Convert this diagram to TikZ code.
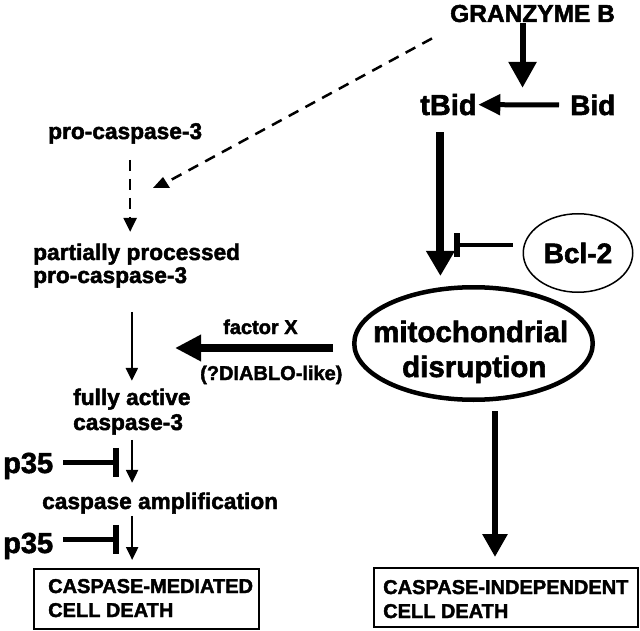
\documentclass[tikz,border=0pt]{standalone}
\usepackage{fontspec}
\setmainfont{Liberation Sans}[BoldFeatures={FakeBold=2}]
\usetikzlibrary{arrows.meta,shapes.geometric,calc}
\newcommand\fsz[1]{\fontsize{#1}{#1}\selectfont\bfseries}
\begin{document}
\begin{tikzpicture}[x=1pt,y=-1pt,
  lbl/.style={inner sep=0pt, anchor=base west, font=\fsz{#1}},
  bigarrow/.style args={#1/#2/#3}{line width=#1pt,-{Triangle[length=#2pt,width=#3pt]}},
  thinarrow/.style={line width=2.2pt,-{Triangle[length=13pt,width=12pt]}},
  dasharrow/.style={line width=2.5pt,dash pattern=on 11pt off 8pt,-{Triangle[length=14pt,width=13pt]}},
  inhib/.style args={#1/#2}{line width=#1pt,-{Bar[width=#2pt,line width=6pt]}},
  boxnode/.style={draw, line width=1.8pt, inner sep=0pt}]
\useasboundingbox (0,0) rectangle (640,631);

% nodes
\node[lbl=24.5] (gb) at (450,22) {GRANZYME B};
\node[lbl=29] (tbid) at (420,115) {tBid};
\node[lbl=28] (bid) at (570,115) {Bid};
\node[ellipse, draw, line width=1.5pt, minimum width=109.5pt, minimum height=78.5pt, inner sep=0pt, font=\fsz{28}] (bcl) at (578,253) {Bcl-2};
\node[ellipse, draw, line width=4.5pt, minimum width=238.5pt, minimum height=112.5pt, inner sep=0pt] (mito) at (473.5,343.5) {};
\node[lbl=29.5] (mito1) at (373,342) {mitochondrial};
\node[lbl=29.5] (mito2) at (402,377) {disruption};

\node[lbl=22.7] (pc3) at (48,139) {pro-caspase-3};
\node[lbl=22.7] (pp1) at (33,260) {partially processed};
\node[lbl=22.7] (pp2) at (33,283) {pro-caspase-3};
\node[lbl=22.7] (fa1) at (73,405) {fully active};
\node[lbl=22.7] (fa2) at (73,430) {caspase-3};
\node[lbl=22.7] (amp) at (42,509) {caspase amplification};
\node[lbl=29] (p35a) at (3,473) {p35};
\node[lbl=29] (p35b) at (3,553) {p35};
\node[lbl=20] (fx) at (223,334) {factor X};
\node[lbl=20] (dbl) at (200,380) {(?DIABLO-like)};

\node[boxnode, anchor=north west, minimum width=225pt, minimum height=60pt] (cm) at (33,568) {};
\node[lbl=20] (cm1) at (48,593) {CASPASE-MEDIATED};
\node[lbl=20] (cm2) at (48,617) {CELL DEATH};
\node[boxnode, anchor=north west, minimum width=264pt, minimum height=59pt] (ci) at (373,567) {};
\node[lbl=20] (ci1) at (383,594) {CASPASE-INDEPENDENT};
\node[lbl=20] (ci2) at (383,618) {CELL DEATH};

% connectors
\draw[bigarrow=6/26/27] ([xshift=-10pt,yshift=-1pt]gb.south) -- ([xshift=-10pt,yshift=6pt]gb.south |- tbid.north);
\draw[bigarrow=5/22/20] ([xshift=-11pt]bid.west) -- ([xshift=1.5pt]tbid.east);
\draw[bigarrow=8/25/27] ([xshift=-8pt,yshift=-17pt]tbid.south) -- ([xshift=-8pt,yshift=9pt]tbid.south |- mito.north);
\draw[inhib=4.5/24] ([xshift=-10pt,yshift=8pt]bcl.west) -- ([xshift=5.3pt,yshift=8pt]bcl.west -| tbid.south);
\draw[bigarrow=6/23/24] ([xshift=21.5pt,yshift=-9pt]mito.south) -- ([xshift=21.5pt,yshift=10pt]mito.south |- ci.north);
\draw[bigarrow=8/26/25] ([xshift=-19pt,yshift=-4.5pt]mito.west) -- ++(-158,0);

\draw[dasharrow] ([xshift=5pt,yshift=-16pt]pc3.south) -- ([xshift=5pt,yshift=11.5pt]pc3.south |- pp1.north);
\coordinate (dtip) at (163,183);
\draw[line width=2.5pt, dash pattern=on 11pt off 8pt] ([xshift=-18pt,yshift=-16pt]gb.south west) -- ($(dtip)+(6,-2)$);
\fill ($(dtip)+(-10,5)$) -- ($(dtip)+(7,5)$) -- ($(dtip)+(0,-6)$) -- cycle;

\draw[thinarrow] ([yshift=-24pt]fa1.north |- pp2.south) -- ([yshift=7.5pt]fa1.north);
\draw[thinarrow] ([xshift=4pt,yshift=-5pt]fa2.south) -- ([xshift=4pt,yshift=9.5pt]fa2.south |- amp.north);
\draw[thinarrow] ([xshift=-28pt,yshift=-2pt]amp.south) -- ([xshift=-28pt,yshift=8pt]amp.south |- cm.north);

\draw[inhib=4.7/29] ([xshift=10pt,yshift=3.6pt]p35a.east) -- ++(56,0);
\draw[inhib=4.7/29] ([xshift=10pt,yshift=6.6pt]p35b.east) -- ++(56,0);
\end{tikzpicture}
\end{document}
